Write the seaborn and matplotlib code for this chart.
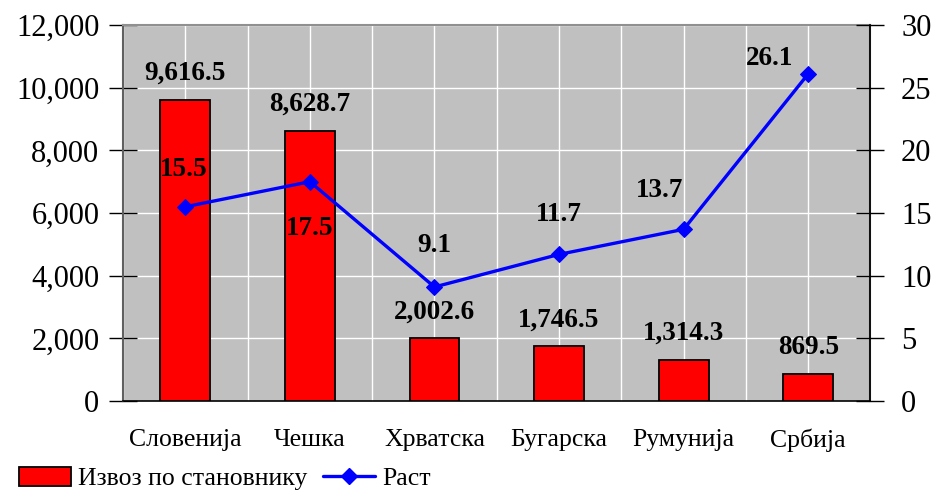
import numpy as np
import matplotlib
matplotlib.use("Agg")
import matplotlib.pyplot as plt
import seaborn as sns
from matplotlib.ticker import FuncFormatter, FixedLocator

# data
countries = ['Словенија', 'Чешка', 'Хрватска', 'Бугарска', 'Румунија', 'Србија']
export_pc = [9616.5, 8628.7, 2002.6, 1746.5, 1314.3, 869.5]
growth = [15.5, 17.5, 9.1, 11.7, 13.7, 26.1]

# label offsets for growth values (points), tuned by eye
growth_offsets = [(-1, 27), (0, -34), (0, 30), (0, 29), (-17, 28), (-28, 11)]

sns.set_style('white')
plt.rcParams['font.family'] = ['Liberation Serif', 'DejaVu Serif']
plt.rcParams['text.color'] = 'black'
plt.rcParams['xtick.color'] = 'black'
plt.rcParams['ytick.color'] = 'black'
plt.rcParams['axes.labelcolor'] = 'black'

fig = plt.figure(figsize=(9.32, 4.96), dpi=100)
ax = fig.add_axes([0.132, 0.1915, 0.802, 0.758])
ax.set_facecolor('#C0C0C0')

sns.barplot(x=countries, y=export_pc, color='#FF0000', edgecolor='black',
            linewidth=1.3, width=0.4, saturation=1, ax=ax, zorder=3)
ax.set_ylim(0, 12000)
ax.set_xlim(-0.5, len(countries) - 0.5)
ax.yaxis.set_major_locator(FixedLocator(np.arange(0, 12001, 2000)))
ax.yaxis.set_major_formatter(FuncFormatter(lambda v, p: f'{v:,.0f}'))

# x: ticks at boundaries, labels at centers
pos = np.arange(len(countries))
ax.xaxis.set_major_locator(FixedLocator(pos - 0.5))
ax.set_xticklabels([], minor=False)
ax.set_xticks(pos, minor=True)
ax.set_xticklabels(countries, minor=True)
ax.tick_params(axis='x', which='minor', length=0, labelsize=18.5, pad=20)
ax.tick_params(axis='x', which='major', direction='inout', length=16, width=1, color='black')
ax.tick_params(axis='y', direction='inout', length=20, width=1, labelsize=22, color='black', pad=7)

ax.grid(True, which='both', axis='x', color='white', linewidth=1)
ax.grid(True, which='major', axis='y', color='white', linewidth=1)
ax.set_axisbelow(True)

for s in ['left', 'top', 'right']:
    ax.spines[s].set_color('#606060')
    ax.spines[s].set_linewidth(1.5)
ax.spines['top'].set_color('#909090')
ax.spines['bottom'].set_color('black')
ax.spines['bottom'].set_linewidth(1.2)

for i, v in enumerate(export_pc):
    ax.annotate(f'{v:,.1f}', (i, v), xytext=(0, 19), textcoords='offset points',
                ha='center', va='center', fontsize=19.5, fontweight='bold',
                color='black', zorder=5)

ax2 = ax.twinx()
sns.lineplot(x=pos, y=growth, color='#0000FF', linewidth=2.4, marker='D',
             markersize=8, markeredgecolor='#0000FF', ax=ax2, zorder=4,
             label='Раст')
ax2.set_ylim(0, 30)
ax2.yaxis.set_major_locator(FixedLocator(np.arange(0, 31, 5)))
ax2.tick_params(axis='y', direction='inout', length=20, width=1, labelsize=22, color='black', pad=12)
ax2.spines['right'].set_color('black')
ax2.spines['right'].set_linewidth(1.2)
for s in ['left', 'top', 'bottom']:
    ax2.spines[s].set_visible(False)
ax2.grid(False)

for i, v in enumerate(growth):
    ax2.annotate(f'{v:.1f}', (i, v), xytext=growth_offsets[i], textcoords='offset points',
                 ha='center', va='center', fontsize=19.5, fontweight='bold', color='black')

ax2.get_legend().remove()
bar_handle = matplotlib.patches.Patch(facecolor='#FF0000', edgecolor='black', linewidth=1.3)
line_handle = matplotlib.lines.Line2D([], [], color='#0000FF', linewidth=2.4, marker='D',
                                      markersize=8)
fig.legend([bar_handle, line_handle], ['Извоз по становнику', 'Раст'],
           loc='lower left', bbox_to_anchor=(-0.004, -0.035), ncol=2, frameon=False,
           fontsize=18.5, handlelength=2.0, handleheight=0.75, handletextpad=0.3,
           columnspacing=0.6)

fig.savefig('out.png', dpi=100)
